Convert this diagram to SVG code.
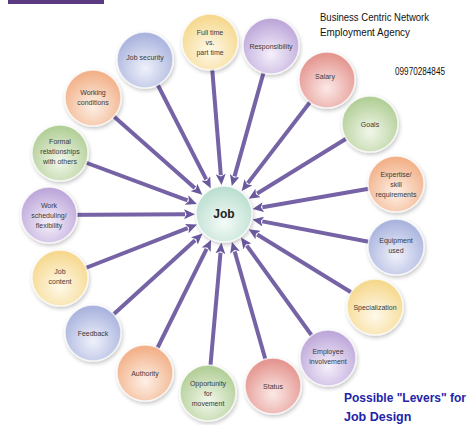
<svg xmlns="http://www.w3.org/2000/svg" width="474" height="425" viewBox="0 0 474 425">
<style>
.lbl{font-family:"Liberation Sans",Arial,sans-serif;font-size:7px;fill:#3a3a3a;text-anchor:middle}
.con{stroke:#7563a6;stroke-width:4;fill:none;marker-end:url(#ah)}
.ring{stroke:#ffffff;stroke-opacity:0.7;stroke-width:1.5;filter:url(#sh)}
.hdr{font-family:"Liberation Sans",Arial,sans-serif;font-size:11px;fill:#111}
.ttl{font-family:"Liberation Sans",Arial,sans-serif;font-size:12.5px;font-weight:bold;fill:#2323a8}
</style>
<defs>
<marker id="ah" markerUnits="userSpaceOnUse" viewBox="0 0 12 10" markerWidth="12" markerHeight="10" refX="1" refY="5" orient="auto">
<path d="M0,0 L11,5 L0,10 L2.5,5 z" fill="#6a589d"/>
</marker>
<filter id="sh" x="-30%" y="-30%" width="160%" height="160%">
<feGaussianBlur in="SourceAlpha" stdDeviation="2"/>
<feOffset dx="1" dy="2" result="b"/>
<feComponentTransfer><feFuncA type="linear" slope="0.25"/></feComponentTransfer>
<feMerge><feMergeNode/><feMergeNode in="SourceGraphic"/></feMerge>
</filter>
<radialGradient id="gy" cx="50%" cy="65%" r="60%"><stop offset="0" stop-color="#fef9ea"/><stop offset="1" stop-color="#f6d98f"/></radialGradient>
<radialGradient id="gb" cx="50%" cy="65%" r="60%"><stop offset="0" stop-color="#eff1fa"/><stop offset="1" stop-color="#aab4de"/></radialGradient>
<radialGradient id="gp" cx="50%" cy="65%" r="60%"><stop offset="0" stop-color="#fdf0e6"/><stop offset="1" stop-color="#f2b189"/></radialGradient>
<radialGradient id="gg" cx="50%" cy="65%" r="60%"><stop offset="0" stop-color="#f1f7ea"/><stop offset="1" stop-color="#b3cf98"/></radialGradient>
<radialGradient id="gl" cx="50%" cy="65%" r="60%"><stop offset="0" stop-color="#f5f0fb"/><stop offset="1" stop-color="#bea8da"/></radialGradient>
<radialGradient id="gk" cx="50%" cy="65%" r="60%"><stop offset="0" stop-color="#fbe9e7"/><stop offset="1" stop-color="#e59690"/></radialGradient>
<radialGradient id="gt" cx="50%" cy="65%" r="60%"><stop offset="0" stop-color="#f4fbf8"/><stop offset="1" stop-color="#bcdfd1"/></radialGradient>
</defs>
<rect x="8" y="0" width="96" height="4" fill="#5b3b80"/>
<g id="connectors">
<line class="con" x1="210" y1="42" x2="220.8" y2="175.1"/>
<line class="con" x1="271" y1="46" x2="234.5" y2="176.4"/>
<line class="con" x1="327" y1="80" x2="247.8" y2="183.1"/>
<line class="con" x1="370" y1="124" x2="257.2" y2="193.5"/>
<line class="con" x1="396" y1="184" x2="262.4" y2="207.3"/>
<line class="con" x1="396" y1="247" x2="262.3" y2="221.4"/>
<line class="con" x1="375" y1="307" x2="257.2" y2="234.5"/>
<line class="con" x1="328" y1="358" x2="246.8" y2="245.6"/>
<line class="con" x1="273" y1="386" x2="234.7" y2="251.5"/>
<line class="con" x1="208" y1="393" x2="220.5" y2="252.8"/>
<line class="con" x1="145" y1="373" x2="206.6" y2="248.9"/>
<line class="con" x1="93" y1="333" x2="195.1" y2="240.2"/>
<line class="con" x1="60" y1="278" x2="187.7" y2="228.2"/>
<line class="con" x1="49" y1="215" x2="185" y2="214.2"/>
<line class="con" x1="60" y1="153" x2="187.5" y2="200.4"/>
<line class="con" x1="93" y1="98" x2="194.8" y2="188.1"/>
<line class="con" x1="145" y1="60" x2="206.2" y2="179.3"/>
</g>
<g id="job"><circle class="ring" cx="224" cy="214" r="28" fill="url(#gt)"/><text x="224" y="218" style="font-family:'Liberation Sans',Arial,sans-serif;font-size:12px;font-weight:bold;fill:#222;text-anchor:middle">Job</text></g>
<g id="fulltime"><circle class="ring" cx="210" cy="42" r="28" fill="url(#gy)"/><text class="lbl" x="210" y="35">Full time</text><text class="lbl" x="210" y="45">vs.</text><text class="lbl" x="210" y="55">part time</text></g>
<g id="responsibility"><circle class="ring" cx="271" cy="46" r="28" fill="url(#gl)"/><text class="lbl" x="271" y="48.5">Responsibility</text></g>
<g id="salary"><circle class="ring" cx="327" cy="80" r="28" fill="url(#gk)"/><text class="lbl" x="325" y="79">Salary</text></g>
<g id="goals"><circle class="ring" cx="370" cy="124" r="28" fill="url(#gg)"/><text class="lbl" x="370" y="126.5">Goals</text></g>
<g id="expertise"><circle class="ring" cx="396" cy="184" r="28" fill="url(#gp)"/><text class="lbl" x="396" y="176.5">Expertise/</text><text class="lbl" x="396" y="186.5">skill</text><text class="lbl" x="396" y="196.5">requirements</text></g>
<g id="equipment"><circle class="ring" cx="396" cy="247" r="28" fill="url(#gb)"/><text class="lbl" x="396" y="243">Equipment</text><text class="lbl" x="396" y="253">used</text></g>
<g id="specialization"><circle class="ring" cx="375" cy="307" r="28" fill="url(#gy)"/><text class="lbl" x="375" y="309.5">Specialization</text></g>
<g id="involvement"><circle class="ring" cx="328" cy="358" r="28" fill="url(#gl)"/><text class="lbl" x="328" y="354">Employee</text><text class="lbl" x="328" y="364">involvement</text></g>
<g id="status"><circle class="ring" cx="273" cy="386" r="28" fill="url(#gk)"/><text class="lbl" x="273" y="388.5">Status</text></g>
<g id="opportunity"><circle class="ring" cx="208" cy="393" r="28" fill="url(#gg)"/><text class="lbl" x="208" y="385.5">Opportunity</text><text class="lbl" x="208" y="395.5">for</text><text class="lbl" x="208" y="405.5">movement</text></g>
<g id="authority"><circle class="ring" cx="145" cy="373" r="28" fill="url(#gp)"/><text class="lbl" x="145" y="375.5">Authority</text></g>
<g id="feedback"><circle class="ring" cx="93" cy="333" r="28" fill="url(#gb)"/><text class="lbl" x="93" y="335.5">Feedback</text></g>
<g id="jobcontent"><circle class="ring" cx="60" cy="278" r="28" fill="url(#gy)"/><text class="lbl" x="60" y="274">Job</text><text class="lbl" x="60" y="284">content</text></g>
<g id="workscheduling"><circle class="ring" cx="49" cy="215" r="28" fill="url(#gl)"/><text class="lbl" x="49" y="207.5">Work</text><text class="lbl" x="49" y="217.5">scheduling/</text><text class="lbl" x="49" y="227.5">flexibility</text></g>
<g id="formal"><circle class="ring" cx="60" cy="153" r="28" fill="url(#gg)"/><text class="lbl" x="60" y="143.5">Formal</text><text class="lbl" x="60" y="153.5">relationships</text><text class="lbl" x="60" y="163.5">with others</text></g>
<g id="working"><circle class="ring" cx="93" cy="98" r="28" fill="url(#gp)"/><text class="lbl" x="93" y="94.5">Working</text><text class="lbl" x="93" y="104.5">conditions</text></g>
<g id="jobsecurity"><circle class="ring" cx="145" cy="60" r="28" fill="url(#gb)"/><text class="lbl" x="145" y="59.5">Job security</text></g>
<text class="hdr" x="320" y="21" textLength="109" lengthAdjust="spacingAndGlyphs">Business Centric Network</text>
<text class="hdr" x="320" y="36" textLength="90" lengthAdjust="spacingAndGlyphs">Employment Agency</text>
<text class="hdr" x="395" y="75" textLength="50" lengthAdjust="spacingAndGlyphs">09970284845</text>
<text class="ttl" x="344" y="402" textLength="122" lengthAdjust="spacingAndGlyphs">Possible "Levers" for</text>
<text class="ttl" x="344" y="421">Job Design</text>
</svg>
